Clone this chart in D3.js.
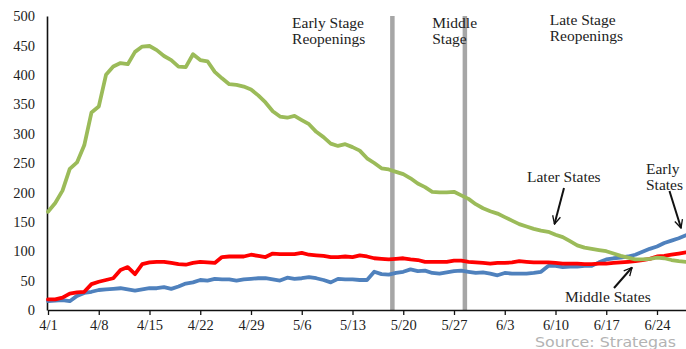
<!DOCTYPE html>
<html>
<head>
<meta charset="utf-8">
<script src="https://cdn.jsdelivr.net/npm/d3@7"></script>
<style>
  body { margin: 0; background: #fff; }
  svg text { font-family: "Liberation Serif", "DejaVu Serif", serif; fill: #222; }
  .source { font-family: "DejaVu Sans", sans-serif; fill: #b3b3b3; }
</style>
</head>
<body>
<div id="chart"></div>
<script>
// Daily values, 4/1 through 6/28
const startDate = new Date(2020, 3, 1);

const laterStates = [
  167, 182, 203, 240, 251, 280, 336, 346, 400, 414,
  420, 418, 439, 448, 449, 442, 432, 425, 414, 413,
  435, 425, 423, 405, 394, 384, 383, 380, 375, 365,
  353, 338, 329, 327, 330, 323, 316, 303, 294, 283,
  279, 282, 277, 271, 258, 250, 241, 239, 235, 231,
  224, 215, 209, 201, 200, 200, 201, 195, 189, 180,
  173, 168, 164, 158, 152, 146, 142, 138, 135, 133,
  128, 124, 117, 110, 106, 104, 102, 100, 96, 92,
  89, 86, 86, 87, 89, 88, 85, 83, 82
];

const middleStates = [
  18, 18, 21, 28, 30, 31, 44, 48, 51, 54,
  68, 73, 61, 78, 81, 82, 82, 80, 78, 77,
  80, 82, 81, 80, 90, 91, 91, 91, 94, 92,
  90, 96, 95, 95, 95, 97, 94, 93, 92, 90,
  90, 91, 90, 93, 91, 88, 87, 86, 87, 88,
  86, 85, 82, 82, 82, 82, 84, 84, 82, 81,
  80, 79, 80, 80, 81, 83, 82, 81, 81, 81,
  80, 79, 79, 79, 78, 78, 79, 79, 80, 81,
  82, 83, 85, 87, 91, 92, 94, 96, 98
];

const earlyStates = [
  15, 16, 17, 15, 24, 29, 31, 34, 35, 36,
  37, 35, 33, 35, 37, 37, 39, 36, 40, 45,
  47, 51, 50, 53, 52, 52, 50, 52, 53, 54,
  54, 52, 50, 55, 53, 54, 56, 54, 51, 47,
  53, 52, 52, 51, 51, 65, 61, 60, 63, 65,
  69, 66, 67, 63, 62, 64, 66, 67, 65, 63,
  64, 62, 59, 63, 62, 62, 62, 63, 65, 75,
  75, 73, 74, 74, 75, 75, 81, 86, 88, 89,
  91, 94, 99, 104, 108, 114, 118, 122, 127
];

const yTicks = [0, 50, 100, 150, 200, 250, 300, 350, 400, 450, 500];
const xTickDates = ['4/1', '4/8', '4/15', '4/22', '4/29', '5/6', '5/13', '5/20', '5/27', '6/3', '6/10', '6/17', '6/24'];

// Reopening phase boundaries (vertical bars)
const phaseBreaks = [new Date(2020, 4, 18, 12), new Date(2020, 4, 28, 12)];

const phaseLabels = [
  { lines: ['Early Stage', 'Reopenings'], date: new Date(2020, 4, 4, 16) },
  { lines: ['Middle', 'Stage'], date: new Date(2020, 4, 24, 0) },
  { lines: ['Late Stage', 'Reopenings'], date: new Date(2020, 5, 9, 5) }
];

function drawChart() {
  const width = 686, height = 349;
  const margin = {top: 16, right: 0, bottom: 39, left: 48};

  const svg = d3.select('#chart').append('svg')
    .attr('width', width)
    .attr('height', height);

  const parse = s => { const [m, d] = s.split('/').map(Number); return new Date(2020, m - 1, d); };
  const dates = laterStates.map((_, i) => d3.timeDay.offset(startDate, i));

  const x = d3.scaleTime()
    .domain([startDate, dates[dates.length - 1]])
    .range([margin.left, width - margin.right]);

  const y = d3.scaleLinear()
    .domain([0, 500])
    .range([height - margin.bottom, margin.top]);

  // phase bars
  svg.selectAll('.phase')
    .data(phaseBreaks)
    .enter().append('line')
    .attr('x1', d => x(d)).attr('x2', d => x(d))
    .attr('y1', y(500)).attr('y2', y(0))
    .attr('stroke', '#a6a6a6')
    .attr('stroke-width', 4.5);

  // axes
  const yAxis = svg.append('g')
    .attr('transform', `translate(${margin.left - 1},0)`)
    .call(d3.axisLeft(y).tickValues(yTicks).tickSize(0).tickPadding(12));
  yAxis.select('.domain').attr('stroke', '#111').attr('stroke-width', 1.6);
  yAxis.selectAll('text').style('font-size', '14.5px').attr('fill', '#222');

  const xAxis = svg.append('g')
    .attr('transform', `translate(0,${y(0)})`)
    .call(d3.axisBottom(x)
      .tickValues(xTickDates.map(parse))
      .tickFormat(d3.timeFormat('%-m/%-d'))
      .tickSize(5).tickSizeOuter(0).tickPadding(5));
  xAxis.select('.domain').attr('stroke', '#111').attr('stroke-width', 1.6);
  xAxis.selectAll('.tick line').attr('stroke', '#111').attr('stroke-width', 1.3);
  xAxis.selectAll('text').style('font-size', '14.5px').attr('fill', '#222');

  // lines
  const line = d3.line()
    .x((d, i) => x(dates[i]))
    .y(d => y(d));

  const series = [
    { values: earlyStates, color: '#4f81bd' },
    { values: middleStates, color: '#ff0000' },
    { values: laterStates, color: '#9bbb59' }
  ];

  svg.selectAll('.series')
    .data(series)
    .enter().append('path')
    .attr('class', 'series')
    .attr('d', d => line(d.values))
    .attr('fill', 'none')
    .attr('stroke', d => d.color)
    .attr('stroke-width', 3.8)
    .attr('stroke-linejoin', 'round')
    .attr('stroke-linecap', 'round');

  // phase labels
  phaseLabels.forEach((p, k) => {
    const t = svg.append('text')
      .attr('x', x(p.date))
      .attr('y', k === 2 ? 25 : 28)
      .style('font-size', '15.5px');
    p.lines.forEach((s, j) => {
      t.append('tspan').attr('x', x(p.date)).attr('dy', j === 0 ? 0 : 16).text(s);
    });
  });

  // series annotations
  const annot = [
    { lines: ['Later States'], x: 527, y: 182 },
    { lines: ['Early', 'States'], x: 646, y: 174 },
    { lines: ['Middle States'], x: 565, y: 302 }
  ];
  annot.forEach(a => {
    const t = svg.append('text')
      .attr('x', a.x).attr('y', a.y)
      .style('font-size', '15.5px');
    a.lines.forEach((s, j) => {
      t.append('tspan').attr('x', a.x).attr('dy', j === 0 ? 0 : 16).text(s);
    });
  });

  // arrows
  svg.append('defs').append('marker')
    .attr('id', 'arrow')
    .attr('viewBox', '0 0 10 10')
    .attr('refX', 9).attr('refY', 5)
    .attr('markerWidth', 5).attr('markerHeight', 5)
    .attr('markerUnits', 'strokeWidth')
    .attr('orient', 'auto')
    .append('path')
    .attr('d', 'M1,1 L9,5 L1,9')
    .attr('fill', 'none')
    .attr('stroke', '#111')
    .attr('stroke-width', 1.3);

  const arrows = [
    [564, 188, 554.5, 224],
    [669.5, 191, 681, 228],
    [614, 288, 632, 267.5]
  ];
  svg.selectAll('.arrow')
    .data(arrows)
    .enter().append('line')
    .attr('x1', d => d[0]).attr('y1', d => d[1])
    .attr('x2', d => d[2]).attr('y2', d => d[3])
    .attr('stroke', '#111')
    .attr('stroke-width', 2)
    .attr('marker-end', 'url(#arrow)');

  // source
  svg.append('text')
    .attr('class', 'source')
    .attr('x', 676).attr('y', 347)
    .attr('text-anchor', 'end')
    .attr('textLength', 141)
    .attr('lengthAdjust', 'spacingAndGlyphs')
    .style('font-size', '14.5px')
    .text('Source: Strategas');
}

drawChart();
</script>
</body>
</html>
